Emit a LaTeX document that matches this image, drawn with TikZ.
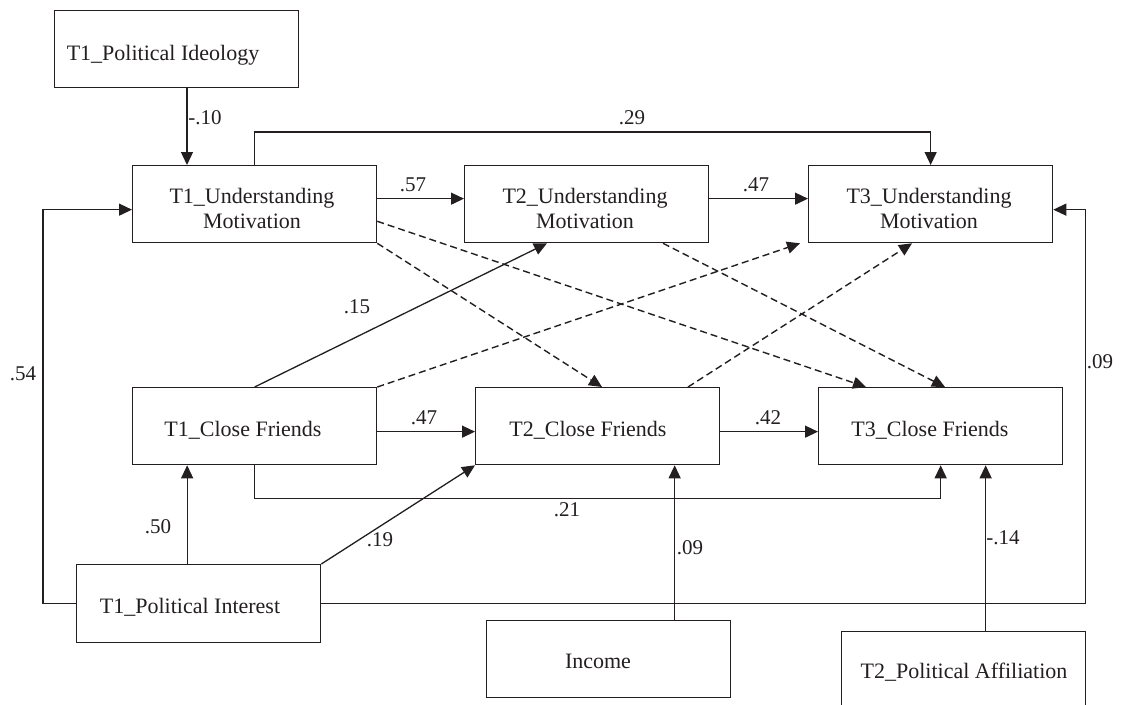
\documentclass[tikz,border=0pt]{standalone}
\usepackage{fontspec}
\setmainfont{Liberation Serif}
\usetikzlibrary{arrows.meta,calc}
\definecolor{ink}{HTML}{231F20}
\begin{document}
\begin{tikzpicture}[x=1pt,y=-1pt,
  box/.style={draw=ink, line width=1.3pt, minimum width=244pt, minimum height=77pt,
              inner sep=0pt, anchor=north west},
  txt/.style={anchor=base, font=\fontsize{22}{25}\selectfont, text=ink, inner sep=0pt},
  lbl/.style={font=\fontsize{21}{24}\selectfont, text=ink, inner sep=0pt},
  link/.style={draw=ink, line width=1.3pt, -{Triangle[length=13pt,width=12pt]}},
  crosslink/.style={link, line width=1.4pt, dash pattern=on 7pt off 4pt}]

% canvas
\clip (0,0) rectangle (1123,704);
\fill[white] (0,0) rectangle (1123,704);

% variables
\node[box] (pid)  at (54,10)   {};
\node[box] (um1)  at (132,165) {};
\node[box] (um2)  at (464,165) {};
\node[box] (um3)  at (808,165) {};
\node[box] (cf1)  at (132,387) {};
\node[box] (cf2)  at (475,387) {};
\node[box] (cf3)  at (818,387) {};
\node[box, minimum height=78pt] (pint) at (76,564) {};
\node[box] (inc)  at (486,620) {};
\node[box, minimum height=90pt] (paff) at (841,631) {};

% variable names
\node[txt] (pid-t)  at (163,60)  {T1\_Political Ideology};
\node[txt] (um1-a)  at (252,203) {T1\_Understanding};
\node[txt] (um1-b)  at (252,228) {Motivation};
\node[txt] (um2-a)  at (585,203) {T2\_Understanding};
\node[txt] (um2-b)  at (585,228) {Motivation};
\node[txt] (um3-a)  at (929,203) {T3\_Understanding};
\node[txt] (um3-b)  at (929,228) {Motivation};
\node[txt] (cf1-t)  at (243,436) {T1\_Close Friends};
\node[txt] (cf2-t)  at (588,436) {T2\_Close Friends};
\node[txt] (cf3-t)  at (930,436) {T3\_Close Friends};
\node[txt] (pint-t) at (190,613) {T1\_Political Interest};
\node[txt] (inc-t)  at (598,668) {Income};
\node[txt] (paff-t) at (964,678) {T2\_Political Affiliation};

% solid paths
\draw[link] ($(pid.south west)+(133,0)$) -- ($(um1.north west)+(55,0)$);
\draw[link] (um1.north) -- ++(0,-33) -| (um3.north);
\draw[link] ([yshift=5.5pt]um1.east) -- ([yshift=5.5pt]um2.west);
\draw[link] ([yshift=5.5pt]um2.east) -- ([yshift=5.5pt]um3.west);
\draw[link] ([yshift=-5.5pt]cf1.east) -- ([yshift=-5.5pt]cf2.west);
\draw[link] ([yshift=-5.5pt]cf2.east) -- ([yshift=-5.5pt]cf3.west);
\draw[link] (cf1.south) -- ++(0,33) -| (cf3.south);
\draw[link] (pint.west) -- ++(-33,0) |- ([yshift=-5.5pt]um1.west);
\draw[link] (pint.east) -- ++(764,0) |- ([yshift=-5.5pt]um3.east);
\coordinate (p50) at ($(pint.north)+(-11.5,0)$);
\draw[link] (p50) -- (p50 |- cf1.south);
\draw[link] (pint.north east) -- (cf2.south west);
\coordinate (p09) at ($(inc.north)+(66,0)$);
\draw[link] (p09) -- (p09 |- cf2.south);
\coordinate (p14) at ($(paff.north)+(22,0)$);
\draw[link] (p14) -- (p14 |- cf3.south);
\draw[link] (cf1.north) -- ($(um2.south west)+(83,0)$);

% non-significant cross-lagged paths
\draw[crosslink] (um1.south east) -- ($(cf2.north west)+(127,0)$);
\draw[crosslink] ($(um1.south east)+(0,-22)$) -- ($(cf3.north west)+(48,0)$);
\draw[crosslink] (cf1.north east) -- ($(um3.south west)+(-8,0)$);
\draw[crosslink] ($(um2.south west)+(199,0)$) -- ($(cf3.north west)+(127,0)$);
\draw[crosslink] ($(cf2.north west)+(213,0)$) -- ($(um3.south west)+(104,0)$);

% coefficients
\node[lbl] (l10)  at (205,118)  {-.10};
\node[lbl] (l29)  at (632,118)  {.29};
\node[lbl] (l57)  at (413,185)  {.57};
\node[lbl] (l47a) at (756,185)  {.47};
\node[lbl] (l54)  at (23,374)   {.54};
\node[lbl] (l09a) at (1100,362) {.09};
\node[lbl] (l15)  at (357,307)  {.15};
\node[lbl] (l47b) at (424,418)  {.47};
\node[lbl] (l42)  at (768,418)  {.42};
\node[lbl] (l21)  at (567,510)  {.21};
\node[lbl] (l50)  at (158,527)  {.50};
\node[lbl] (l19)  at (380,540)  {.19};
\node[lbl] (l09b) at (690,548)  {.09};
\node[lbl] (l14)  at (1003,538) {-.14};
\end{tikzpicture}
\end{document}
